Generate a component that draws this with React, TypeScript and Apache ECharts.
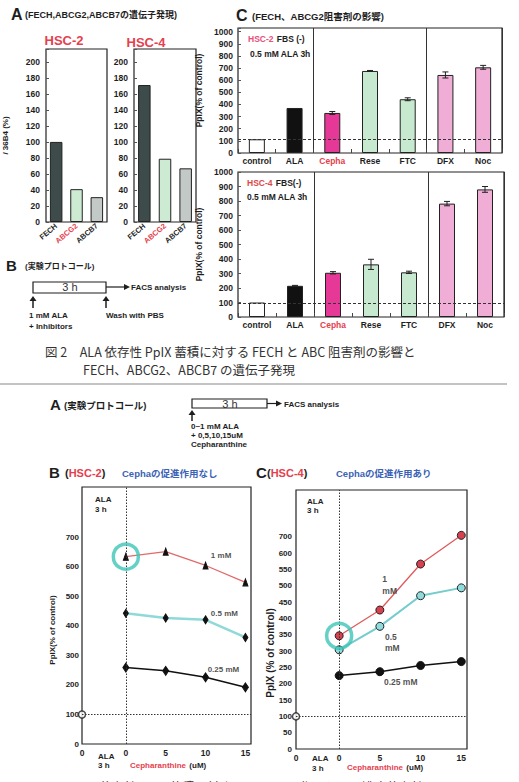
import React, { useEffect, useRef } from "react";
import * as echarts from "echarts";

const LATIN = '"Liberation Sans", Arial, "Noto Sans CJK JP", sans-serif';
const JP = '"Noto Sans CJK JP", "Liberation Sans", sans-serif';
const RED = "#e5404e";
const BLUE = "#3b62b5";
const INK = "#1e1e1e";

// Fig.2 A: expression of FECH / ABCG2 / ABCB7 relative to 36B4 (%)
const geneNames = ["FECH", "ABCG2", "ABCB7"];
const hsc2Expression = [100, 41, 31];
const hsc4Expression = [171, 79, 67];

// Fig.2 C: PpIX accumulation with FECH / ABCG2 inhibitors (% of control)
const treatments = ["control", "ALA", "Cepha", "Rese", "FTC", "DFX", "Noc"];
const hsc2PpIX = [113, 371, 330, 676, 443, 643, 706];
const hsc2PpIXErr = [0, 0, 12, 4, 12, 25, 16];
const hsc2Baseline = 115;
const hsc4PpIX = [100, 215, 305, 363, 308, 782, 880];
const hsc4PpIXErr = [0, 3, 8, 35, 8, 15, 20];
const hsc4Baseline = 92;

// Fig.3: PpIX vs cepharanthine dose (uM) for three ALA concentrations
const cephaDoses = [0, 5, 10, 15];
const hsc2Ala1 = [635, 652, 605, 548];
const hsc2Ala05 = [443, 427, 421, 361];
const hsc2Ala025 = [259, 248, 226, 192];
const hsc4Ala1 = [347, 426, 567, 655];
const hsc4Ala05 = [304, 376, 470, 494];
const hsc4Ala025 = [225, 237, 256, 268];
const noAlaLevel = 100;

// tick labels
const doseTicks = [0, 5, 10, 15];
const hsc2PpIXTicks = [0, 100, 200, 300, 400, 500, 600, 700];
const hsc4PpIXTickValues = [0, 50, 100, 150, 200, 250, 300, 350, 400, 450, 500, 550, 600, 650];
const hsc4PpIXTickLabels = ["0", "50", "100", "150", "200", "250", "300", "350", "400", "450", "500", "550", "600", "700"];

// bar fills
const geneColors = ["#3e4b4b", "#cdebd3", "#c3c9c7"];
const treatmentColors = ["#ffffff", "#111111", "#e63896", "#c7e9cf", "#c7e9cf", "#f0aed6", "#f0aed6"];

const frame = (left: number, top: number, width: number, height: number) => ({
  left, top, width, height, show: true, borderColor: "#222", borderWidth: 1.2, backgroundColor: "#fff",
});

// text style for axis labels (ECharts label: color)
const lbl = (extra: any = {}) => ({ fontFamily: LATIN, fontWeight: "bold", fontSize: 8.5, color: INK, ...extra });
// text style for graphic rich text (zrender: fill)
const gl = (size: number, fill = INK) => ({ fontFamily: LATIN, fontWeight: "bold", fontSize: size, fill });

const txt = (x: number, y: number, text: string, extra: any = {}) => ({
  type: "text", x, y, silent: true,
  style: { text, fontFamily: LATIN, fontSize: 8, fontWeight: "bold", fill: INK, align: "left", verticalAlign: "middle", ...extra },
});

const richTxt = (x: number, y: number, text: string, rich: any) => ({
  type: "text", x, y, silent: true,
  style: { text, align: "left", verticalAlign: "middle", rich },
});

const upArrow = (x: number, tip: number, base: number) => [
  { type: "line", shape: { x1: x, y1: base, x2: x, y2: tip + 4 }, style: { stroke: INK, lineWidth: 1.5 } },
  { type: "polygon", shape: { points: [[x - 3.5, tip + 5], [x, tip], [x + 3.5, tip + 5]] }, style: { fill: INK } },
];

const rightArrow = (x1: number, x2: number, y: number) => [
  { type: "line", shape: { x1, y1: y, x2: x2 - 5, y2: y }, style: { stroke: INK, lineWidth: 1.2 } },
  { type: "polygon", shape: { points: [[x2 - 6, y - 3], [x2, y], [x2 - 6, y + 3]] }, style: { fill: INK } },
];

const errorBars = (values: number[], errs: number[], idx: number) => ({
  type: "custom", xAxisIndex: idx, yAxisIndex: idx, z: 5, silent: true,
  data: values.map((v, i) => [i, v - errs[i], v + errs[i]]).filter((_, i) => errs[i] > 0),
  renderItem: (_p: any, api: any) => {
    const lo = api.coord([api.value(0), api.value(1)]);
    const hi = api.coord([api.value(0), api.value(2)]);
    const w = 3;
    const st = { stroke: "#222", lineWidth: 1 };
    return {
      type: "group",
      children: [
        { type: "line", shape: { x1: lo[0], y1: lo[1], x2: hi[0], y2: hi[1] }, style: st },
        { type: "line", shape: { x1: hi[0] - w, y1: hi[1], x2: hi[0] + w, y2: hi[1] }, style: st },
        { type: "line", shape: { x1: lo[0] - w, y1: lo[1], x2: lo[0] + w, y2: lo[1] }, style: st },
      ],
    };
  },
});

const treatmentLabel = (v: string) => (v === "Cepha" ? `{r|${v}}` : `{k|${v}}`);

const expressionAxes = (idx: number, withName: boolean) => ({
  x: {
    type: "category", gridIndex: idx, data: geneNames,
    axisLine: { show: false }, axisTick: { show: false },
    axisLabel: {
      interval: 0, rotate: 40, margin: 3,
      formatter: (v: string) => (v === "ABCG2" ? `{r|${v}}` : `{k|${v}}`),
      rich: { r: lbl({ fontSize: 7.5, color: RED }), k: lbl({ fontSize: 7.5 }) },
    },
  },
  y: {
    type: "value", gridIndex: idx, min: 0, max: 216, interval: 20,
    axisLine: { show: false }, splitLine: { show: false },
    axisTick: { show: true, inside: true, length: 3, lineStyle: { color: "#555" } },
    axisLabel: { ...lbl({ fontSize: 8.5 }), margin: 6, formatter: (v: number) => (v <= 200 ? String(v) : "") },
    ...(withName
      ? { name: "/ 36B4 (%)", nameLocation: "middle", nameGap: 37, nameRotate: 90, nameTextStyle: lbl({ fontSize: 8 }) }
      : {}),
  },
});

const treatmentAxes = (idx: number, max: number) => ({
  x: {
    type: "category", gridIndex: idx, data: treatments,
    axisLine: { show: false },
    axisTick: { show: true, inside: true, length: 4, lineStyle: { color: "#444" } },
    splitLine: { show: true, interval: (i: number) => i === 2 || i === 5, lineStyle: { color: "#333", width: 1 } },
    axisLabel: {
      interval: 0, margin: 4, formatter: treatmentLabel,
      rich: { r: lbl({ color: RED }), k: lbl() },
    },
  },
  y: {
    type: "value", gridIndex: idx, min: 0, max, interval: 100,
    axisLine: { show: false }, splitLine: { show: false },
    axisTick: { show: true, inside: true, length: 3, lineStyle: { color: "#555" } },
    axisLabel: { ...lbl(), margin: 5, formatter: (v: number) => (v <= 1000 ? String(v) : "") },
    name: "PpIX(% of control)", nameLocation: "middle", nameGap: 26, nameRotate: 90,
    nameTextStyle: lbl({ fontSize: 8.5 }),
  },
});

const doseAxis = (idx: number, min: number, max: number) => ({
  type: "value", gridIndex: idx, min, max,
  axisLine: { show: false }, axisTick: { show: false }, splitLine: { show: false },
  axisLabel: {
    ...lbl(), margin: 5, showMinLabel: true, showMaxLabel: true,
    customValues: [min, ...doseTicks],
    formatter: (v: number) => (v < 0 ? "0" : String(v)),
  },
});

const lineSeries = (idx: number, values: number[], lineColor: string, width: number, symbol: string, size: any, fill: string, border = fill) => ({
  type: "line", xAxisIndex: idx, yAxisIndex: idx, z: 3,
  data: cephaDoses.map((d, i) => [d, values[i]]),
  lineStyle: { color: lineColor, width },
  symbol, symbolSize: size, showSymbol: true,
  itemStyle: { color: fill, borderColor: border, borderWidth: 1 },
});

const referenceSeries = (idx: number, xMin: number) => ({
  type: "scatter", xAxisIndex: idx, yAxisIndex: idx, clip: false, z: 4,
  data: [[xMin, noAlaLevel]],
  symbol: "circle", symbolSize: 7,
  itemStyle: { color: "#fff", borderColor: INK, borderWidth: 1.5 },
  markLine: {
    silent: true, symbol: ["none", "none"], label: { show: false },
    lineStyle: { type: [1.5, 1.5], color: "#333", width: 1 },
    data: [{ xAxis: 0 }, { yAxis: noAlaLevel }],
  },
});

const ringSeries = (idx: number, y: number) => ({
  type: "scatter", xAxisIndex: idx, yAxisIndex: idx, z: 6, silent: true,
  data: [[0, y]], symbol: "circle", symbolSize: 25,
  itemStyle: { color: "rgba(0,0,0,0)", borderColor: "#3ec6b8", borderWidth: 3.5 },
});

const tagSeries = (idx: number, tags: [number, number, string][], size: number) => ({
  type: "scatter", xAxisIndex: idx, yAxisIndex: idx, z: 7, silent: true,
  symbolSize: 1, itemStyle: { color: "rgba(0,0,0,0)" },
  data: tags.map(([x, y, t]) => ({ value: [x, y], name: t })),
  label: {
    show: true, position: "right", distance: 0, formatter: (p: any) => p.name,
    ...lbl({ fontSize: size }), lineHeight: size + 3, align: "left",
  },
});

function buildOption() {
  const a2 = expressionAxes(0, true);
  const a4 = expressionAxes(1, false);
  const c2 = treatmentAxes(2, 1030);
  const c4 = treatmentAxes(3, 1000);
  const bMin = -5.5, bMax = 15.7, cMin = -5.3, cMax = 15.7;
  const captionStyle = { fontFamily: JP, fontSize: 12.5, fontWeight: "normal", fill: "#333" };

  const graphic: any[] = [
    // Fig.2 headings
    txt(11, 14, "A", { fontSize: 16 }),
    txt(25, 15, "(FECH,ABCG2,ABCB7の遺伝子発現)", { fontSize: 9 }),
    txt(64, 40, "HSC-2", { fontSize: 13, fill: RED, align: "center" }),
    txt(146, 42, "HSC-4", { fontSize: 13, fill: RED, align: "center" }),
    txt(236, 15, "C", { fontSize: 16 }),
    txt(252, 16, "(FECH、ABCG2阻害剤の影響)", { fontSize: 9.5 }),
    richTxt(248, 39, "{r|HSC-2} {k|FBS (-)}", { r: gl(8.5, "#e8507a"), k: gl(8.5) }),
    txt(250, 54, "0.5 mM ALA 3h", { fontSize: 8.5 }),
    richTxt(247, 183, "{r|HSC-4} {k|FBS(-)}", { r: gl(8.5, "#e04848"), k: gl(8.5) }),
    txt(247, 197, "0.5 mM ALA 3h", { fontSize: 8.5 }),

    // Fig.2 B protocol
    txt(6, 265, "B", { fontSize: 15 }),
    txt(25, 266, "(実験プロトコール)", { fontSize: 8 }),
    { type: "rect", shape: { x: 33, y: 282, width: 73, height: 11 }, style: { fill: "none", stroke: INK, lineWidth: 1.2 } },
    txt(70, 287, "3 h", { fontSize: 11, fontWeight: "normal", align: "center", fill: "#333" }),
    ...rightArrow(106, 130, 287),
    txt(131, 287, "FACS analysis", { fontSize: 8 }),
    ...upArrow(33, 296, 308),
    ...upArrow(106, 296, 308),
    txt(29, 315, "1 mM ALA"),
    txt(29, 326, "+ Inhibitors"),
    txt(106, 315, "Wash with PBS"),

    // Fig.2 caption and divider
    txt(45, 351, "図 2　ALA 依存性 PpIX 蓄積に対する FECH と ABC 阻害剤の影響と", captionStyle),
    txt(83, 369, "FECH、ABCG2、ABCB7 の遺伝子発現", captionStyle),
    { type: "line", shape: { x1: 0, y1: 384, x2: 507, y2: 384 }, style: { stroke: "#888", lineWidth: 1.2 } },

    // Fig.3 A protocol
    txt(50, 404, "A", { fontSize: 15 }),
    txt(64, 405, "(実験プロトコール)", { fontSize: 9.5 }),
    { type: "rect", shape: { x: 192, y: 399, width: 75, height: 9 }, style: { fill: "none", stroke: INK, lineWidth: 1.2 } },
    txt(230, 403.5, "3 h", { fontSize: 11, fontWeight: "normal", align: "center", fill: "#333" }),
    ...rightArrow(267, 282, 403.5),
    txt(284, 404, "FACS analysis", { fontSize: 8 }),
    ...upArrow(192, 410, 421),
    txt(191, 426, "0~1 mM ALA"),
    txt(191, 435, "+ 0,5,10,15uM"),
    txt(191, 444, "Cepharanthine"),

    // Fig.3 B / C headings
    txt(49, 472, "B", { fontSize: 15 }),
    richTxt(65, 473, "{k|(}{r|HSC-2}{k|)}", { r: gl(11, RED), k: gl(11) }),
    txt(122, 473, "Cephaの促進作用なし", { fontSize: 9.5, fill: BLUE }),
    txt(256, 472, "C", { fontSize: 15 }),
    richTxt(267, 473, "{k|(}{r|HSC-4}{k|)}", { r: gl(11, RED), k: gl(11) }),
    txt(336, 473, "Cephaの促進作用あり", { fontSize: 9.5, fill: BLUE }),

    // Fig.3 B annotations
    txt(95, 499, "ALA"),
    txt(95, 509, "3 h"),
    txt(98, 756, "ALA"),
    txt(98, 765, "3 h"),
    richTxt(130, 765, "{r|Cepharanthine} {k|(uM)}", { r: gl(8, RED), k: gl(8) }),
    {
      type: "text", x: 52, y: 630, rotation: Math.PI / 2, silent: true,
      style: { text: "PpIX(% of control)", fontFamily: LATIN, fontWeight: "bold", fontSize: 8, fill: INK, align: "center", verticalAlign: "middle" },
    },

    // Fig.3 C annotations
    txt(307, 501, "ALA"),
    txt(307, 510, "3 h"),
    txt(312, 758, "ALA"),
    txt(312, 768, "3 h"),
    richTxt(347, 767, "{r|Cepharanthine} {k|(uM)}", { r: gl(8, RED), k: gl(8) }),
    {
      type: "text", x: 270, y: 653, rotation: Math.PI / 2, silent: true,
      style: { text: "PpIX (% of control)", fontFamily: LATIN, fontWeight: "bold", fontSize: 10, fill: INK, align: "center", verticalAlign: "middle" },
    },

    // Fig.3 caption (runs off the bottom edge)
    txt(40, 786, "図 3　ALA 依存性 PpIX 蓄積に対する Cepha の作用とその濃度依存性", captionStyle),
  ];

  return {
    animation: false,
    backgroundColor: "#fff",
    grid: [
      frame(46, 49, 61, 173),
      frame(134, 49, 62, 173),
      frame(238, 28, 264, 125),
      frame(238, 172, 266, 145),
      frame(82, 487, 169, 257),
      frame(296, 490, 171, 259),
    ],
    xAxis: [a2.x, a4.x, c2.x, c4.x, doseAxis(4, bMin, bMax), doseAxis(5, cMin, cMax)],
    yAxis: [
      a2.y,
      a4.y,
      c2.y,
      c4.y,
      {
        type: "value", gridIndex: 4, min: 0, max: 871,
        axisLine: { show: false }, axisTick: { show: false }, splitLine: { show: false },
        axisLabel: { ...lbl({ fontSize: 8 }), margin: 3, customValues: hsc2PpIXTicks },
      },
      {
        type: "value", gridIndex: 5, min: 0, max: 794,
        axisLine: { show: false }, axisTick: { show: false }, splitLine: { show: false },
        axisLabel: {
          ...lbl({ fontSize: 8 }), margin: 4, customValues: hsc4PpIXTickValues,
          formatter: (v: number) => {
            const i = hsc4PpIXTickValues.indexOf(v);
            return i >= 0 ? hsc4PpIXTickLabels[i] : "";
          },
        },
      },
    ],
    series: [
      // Fig.2 A bars
      {
        type: "bar", xAxisIndex: 0, yAxisIndex: 0, barWidth: 12.5,
        data: hsc2Expression.map((v, i) => ({ value: v, itemStyle: { color: geneColors[i] } })),
        itemStyle: { borderColor: "#222", borderWidth: 1 },
      },
      {
        type: "bar", xAxisIndex: 1, yAxisIndex: 1, barWidth: 12.5,
        data: hsc4Expression.map((v, i) => ({ value: v, itemStyle: { color: geneColors[i] } })),
        itemStyle: { borderColor: "#222", borderWidth: 1 },
      },
      // Fig.2 C bars
      {
        type: "bar", xAxisIndex: 2, yAxisIndex: 2, barWidth: 16,
        data: hsc2PpIX.map((v, i) => ({ value: v, itemStyle: { color: treatmentColors[i] } })),
        itemStyle: { borderColor: "#222", borderWidth: 1 },
        markLine: {
          silent: true, symbol: ["none", "none"], label: { show: false },
          lineStyle: { type: [3, 2], color: "#333", width: 1 },
          data: [{ yAxis: hsc2Baseline }],
        },
      },
      errorBars(hsc2PpIX, hsc2PpIXErr, 2),
      {
        type: "bar", xAxisIndex: 3, yAxisIndex: 3, barWidth: 16,
        data: hsc4PpIX.map((v, i) => ({ value: v, itemStyle: { color: treatmentColors[i] } })),
        itemStyle: { borderColor: "#222", borderWidth: 1 },
        markLine: {
          silent: true, symbol: ["none", "none"], label: { show: false },
          lineStyle: { type: [3, 2], color: "#333", width: 1 },
          data: [{ yAxis: hsc4Baseline }],
        },
      },
      errorBars(hsc4PpIX, hsc4PpIXErr, 3),

      // Fig.3 B (HSC-2)
      referenceSeries(4, bMin),
      lineSeries(4, hsc2Ala1, "#e26a6a", 1.3, "triangle", [5, 7], "#111"),
      lineSeries(4, hsc2Ala05, "#8fd9d9", 2.5, "diamond", [5, 8], "#111"),
      lineSeries(4, hsc2Ala025, "#111", 1.5, "diamond", [6, 9], "#111"),
      ringSeries(4, hsc2Ala1[0]),
      tagSeries(4, [[10.6, 638, "1 mM"], [10.6, 441, "0.5 mM"], [10.2, 254, "0.25 mM"]], 8),

      // Fig.3 C (HSC-4)
      referenceSeries(5, cMin),
      lineSeries(5, hsc4Ala1, "#e05a5a", 1.3, "circle", 8, "#d8404e", "#222"),
      lineSeries(5, hsc4Ala05, "#74cccc", 2, "circle", 8, "#90dcdc", "#222"),
      lineSeries(5, hsc4Ala025, "#111", 1.5, "circle", 8, "#111"),
      ringSeries(5, hsc4Ala1[0]),
      tagSeries(5, [[5.24, 503, "1\nmM"], [5.56, 326, "0.5\nmM"], [5.44, 206, "0.25 mM"]], 8.5),
    ],
    graphic,
  };
}

export default function App() {
  const ref = useRef<HTMLDivElement>(null);
  useEffect(() => {
    if (!ref.current) return;
    const chart = echarts.init(ref.current, undefined, { renderer: "svg" });
    chart.setOption(buildOption() as any);
    return () => chart.dispose();
  }, []);
  return (
    <div
      ref={ref}
      style={{ position: "absolute", left: 0, top: 0, width: 519, height: 782, background: "#fff" }}
    />
  );
}
